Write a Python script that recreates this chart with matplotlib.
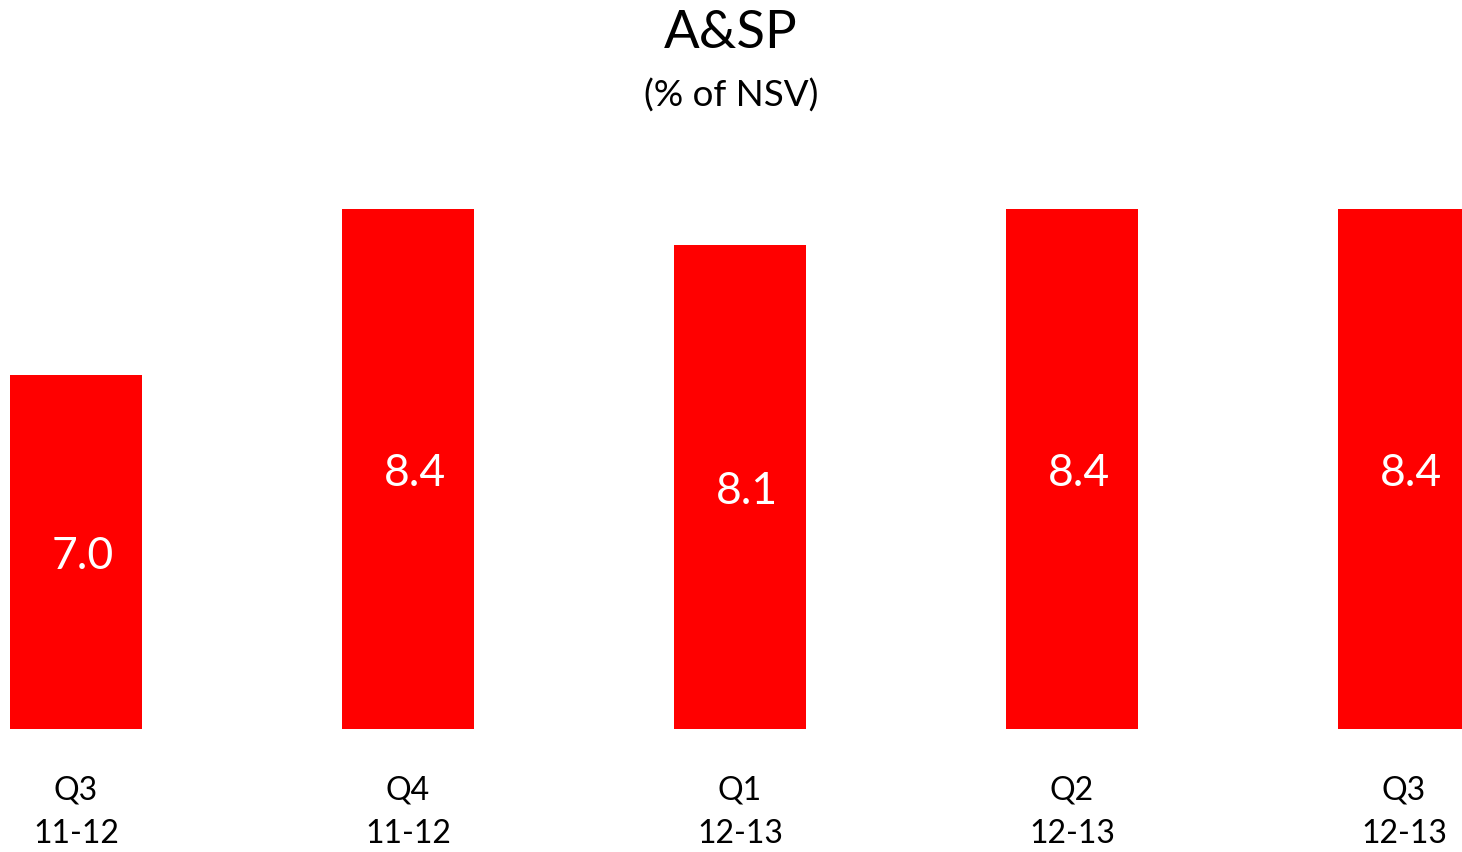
import matplotlib
matplotlib.use("Agg")
import matplotlib.pyplot as plt

plt.rcParams['font.family'] = ['Lato', 'DejaVu Sans']

quarters = ["Q3", "Q4", "Q1", "Q2", "Q3"]
years = ["11-12", "11-12", "12-13", "12-13", "12-13"]
values = [7.0, 8.4, 8.1, 8.4, 8.4]

W, H = 1462, 852
fig = plt.figure(figsize=(W / 100, H / 100), dpi=100)

# axes placed in pixel terms: baseline at y=729, value 10 near y=20
ax_bottom = (H - 729) / H
ax_top = (H - 20) / H
ax = fig.add_axes([0, ax_bottom, 1, ax_top - ax_bottom])

x = list(range(len(values)))
ymin = 4.0
ax.bar(x, [v - ymin for v in values], bottom=ymin, width=0.4, color="#FF0000")

ax.set_xlim(-76 / 332, -76 / 332 + W / 332)
ax.set_ylim(ymin, 10.0)

for xi, v in zip(x, values):
    ax.annotate(f"{v:.1f}", xy=(xi + 0.02, (ymin + v) / 2),
                xytext=(0, -3.5), textcoords="offset points",
                color="white", ha="center", va="center", fontsize=32)

ax.set_xticks(x)
ax.set_xticklabels([f"{q}\n{y}" for q, y in zip(quarters, years)],
                   fontsize=23, linespacing=1.57)
ax.tick_params(axis="x", length=0, pad=33.7)
ax.set_yticks([])
for s in ax.spines.values():
    s.set_visible(False)

fig.text(0.5, 1 - 34 / H, "A&SP", ha="center", va="center", fontsize=38)
fig.text(0.5, 1 - 96 / H, "(% of NSV)", ha="center", va="center", fontsize=26.5)

fig.savefig("out.png", dpi=100, facecolor="white")
